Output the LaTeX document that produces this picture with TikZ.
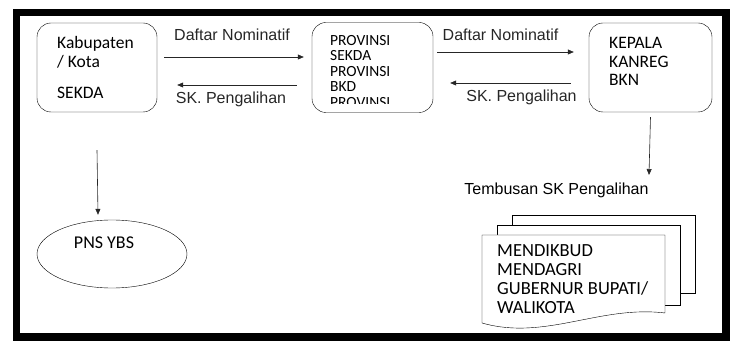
\documentclass[tikz,border=0pt]{standalone}
\usepackage{fontspec}
\setmainfont{Liberation Sans}
\newfontfamily\boxfont{Carlito}
\usetikzlibrary{arrows.meta, positioning, shapes.geometric}

\begin{document}
\begin{tikzpicture}[
  x=1pt, y=1pt,
  box/.style={draw, rounded corners=14pt, thin, minimum width=120pt, minimum height=89pt, inner sep=0pt},
  boxtext/.style={font=\boxfont\fontsize{17.5}{19}\selectfont, align=left, anchor=north west, inner sep=0pt},
  lbl/.style={font=\fontsize{16}{18}\selectfont, inner sep=0pt},
  flow/.style={-{Triangle[length=6pt, width=5pt]}, semithick, black!85},
  sheet/.style={draw, thin, fill=white}
]

\useasboundingbox (0,0) rectangle (734,343);

% Frame
\draw[line width=7.5pt] (16.5,330.5) rectangle (726,6);

% Boxes
\node[box] (kab) at (97,275.5) {};
\node[box, minimum width=121pt, minimum height=90pt] (prov) at (372.5,275.5) {};
\node[box, minimum width=123pt] (bkn) at (650.5,275.5) {};

% Box texts
\node[boxtext] (kabtext) at (57,306.5) {Kabupaten\\/ Kota\\[12pt]SEKDA};
\begin{scope}
  \clip (300,239) rectangle (450,330);
  \node[boxtext, font=\boxfont\fontsize{15.5}{15.5}\selectfont] (provtext) at (330,308) {PROVINSI\\SEKDA\\PROVINSI\\BKD\\PROVINSI};
\end{scope}
\node[boxtext, font=\boxfont\fontsize{17.5}{18.5}\selectfont] (bkntext) at (609,305.5) {KEPALA\\KANREG\\BKN};

% Arrows between boxes
\draw[flow] ([xshift=7pt, yshift=10.5pt]kab.east) -- ([xshift=-8pt, yshift=10.5pt]prov.west)
  node[lbl, midway, xshift=-2pt, yshift=22pt] (daftarA) {Daftar Nominatif};
\draw[flow] ([xshift=-15pt, yshift=-17.5pt]prov.west) -- ([xshift=20pt, yshift=-17.5pt]kab.east)
  node[lbl, midway, xshift=-6pt, yshift=-14pt] (skA) {SK. Pengalihan};
\draw[flow] ([xshift=4pt, yshift=15.5pt]prov.east) -- ([xshift=-15pt, yshift=15.5pt]bkn.west)
  node[lbl, midway, xshift=-5pt, yshift=17pt] (daftarB) {Daftar Nominatif};
\draw[flow] ([xshift=-18pt, yshift=-15.5pt]bkn.west) -- ([xshift=17pt, yshift=-15.5pt]prov.east)
  node[lbl, midway, xshift=11pt, yshift=-14pt] (skB) {SK. Pengalihan};

% PNS YBS
\node[draw, ellipse, thin, minimum width=150pt, minimum height=68pt, inner sep=0pt] (pns) at (112,89) {};
\node[font=\boxfont\fontsize{18}{20}\selectfont, inner sep=0pt] (pnstext) at ([xshift=-8pt, yshift=11pt]pns.center) {PNS YBS};
\draw[flow] ([yshift=-38pt]kab.south) -- ([xshift=-14pt, yshift=5pt]pns.north);

% Tembusan
\coordinate (tembusanend) at (649,168);
\draw[flow] ([yshift=-5pt]bkn.south) -- (tembusanend);
\node[lbl] (tembusan) at (556.5,153) {Tembusan SK Pengalihan};

% Document stack
\draw[sheet] (512,50) rectangle (695,128);
\draw[sheet] (497,38) rectangle (680,118);
\draw[sheet] (482,20) -- (482,108) -- (665,108) -- (665,30) .. controls (600,38) and (545,2) .. (482,20) -- cycle;
\node[boxtext, font=\boxfont\fontsize{18.5}{19}\selectfont] (doctext) at (497,99) {MENDIKBUD\\MENDAGRI\\GUBERNUR BUPATI/\\WALIKOTA};

\end{tikzpicture}
\end{document}
